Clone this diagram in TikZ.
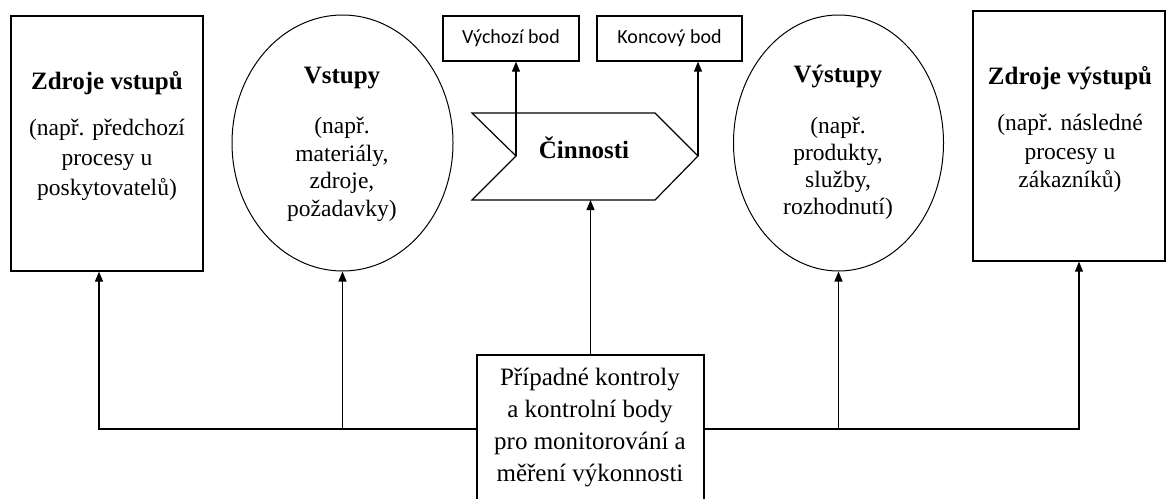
\documentclass[tikz,border=0pt]{standalone}
\usepackage{fontspec}
\setmainfont{Liberation Serif}[BoldFont={Liberation Serif Bold}]
\newfontfamily\calibri{Carlito}
\usetikzlibrary{arrows.meta,shapes.geometric,calc}

\begin{document}
\begin{tikzpicture}[x=1pt,y=-1pt,
  frame/.style={draw, line width=1.3pt, inner sep=0pt},
  oval/.style={draw, ellipse, line width=1pt, inner sep=0pt},
  conn/.style={line width=1.1pt, -{Triangle[length=10pt,width=8pt]}},
  ttl/.style={font=\fontsize{25}{30}\selectfont\bfseries, inner sep=0pt},
  body/.style={font=\fontsize{23.5}{#1}\selectfont, align=center, inner sep=0pt},
  tag/.style={frame, font=\calibri\fontsize{20}{24}\selectfont}]
\useasboundingbox (0,0) rectangle (1166,498);

% input sources
\node[frame, minimum width=192pt, minimum height=255pt] (insrc) at (107,143.5) {};
\node[ttl] (insrcT) at (107,83) {Zdroje vstupů};
\node[body=30pt] (insrcB) at (107,160) {(např. předchozí\\procesy u\\poskytovatelů)};

% inputs
\node[oval, minimum width=221pt, minimum height=256pt] (inp) at (342.5,143) {};
\node[ttl] (inpT) at (342,78) {Vstupy};
\node[body=27.5pt] (inpB) at (342,169.5) {(např.\\materiály,\\zdroje,\\požadavky)};

% activities
\coordinate (notch) at (516,156);
\coordinate (tip) at (698,156);
\coordinate (actbot) at (590.5,200);
\draw[line width=1.2pt, line join=miter] (472,113) -- (655,113) -- (tip) -- (655,200) -- (472,200) -- (notch) -- cycle;
\node[ttl] (act) at (584,148) {Činnosti};

% start and end points
\node[tag, minimum width=136pt, minimum height=45pt] (start) at (511,38.5) {Výchozí bod};
\node[tag, minimum width=145pt, minimum height=45pt] (stop) at (669.5,38.5) {Koncový bod};

% outputs
\node[oval, minimum width=210pt, minimum height=256pt] (out) at (838.5,143) {};
\node[ttl] (outT) at (838,77) {Výstupy};
\node[body=27pt] (outB) at (838,168) {(např.\\produkty,\\služby,\\rozhodnutí)};

% output recipients
\node[frame, minimum width=192pt, minimum height=250pt] (outsrc) at (1069,136) {};
\node[ttl] (outsrcT) at (1070,78) {Zdroje výstupů};
\node[body=28.5pt] (outsrcB) at (1070,153.5) {(např. následné\\procesy u\\zákazníků)};

% controls
\node[frame, minimum width=227pt, minimum height=148pt] (ctrl) at (590.5,429) {};
\node[body=32pt, font=\fontsize{25}{32}\selectfont] (ctrlT) at (590,427) {Případné kontroly\\a kontrolní body\\pro monitorování a\\měření výkonnosti};

% connectors
\draw[conn] (notch) -- (notch |- start.south);
\draw[conn] (tip) -- (tip |- stop.south);
\draw[conn] (ctrl.north) -- (actbot);
\draw[conn] (ctrl.west) -| ($(insrc.south)+(-8,0)$);
\draw[conn] (ctrl.west -| inp.south) -- (inp.south);
\draw[conn] (ctrl.east) -| ($(outsrc.south)+(10,0)$);
\draw[conn] (ctrl.east -| out.south) -- (out.south);
\end{tikzpicture}
\end{document}
